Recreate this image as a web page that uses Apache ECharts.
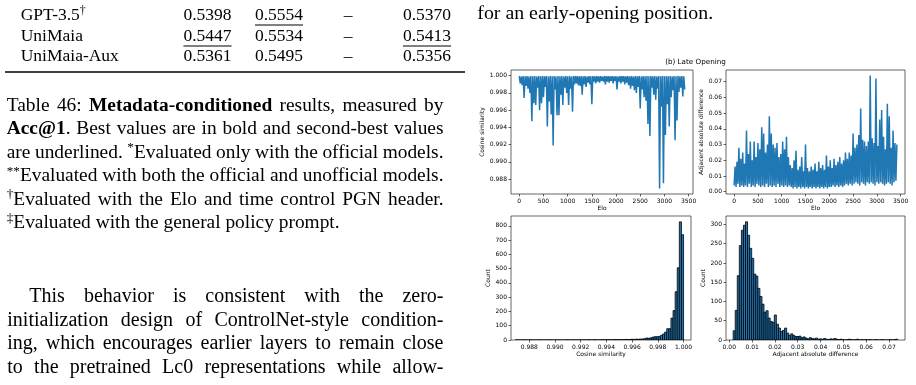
<!DOCTYPE html>
<html>
<head>
<meta charset="utf-8">
<script src="https://cdn.jsdelivr.net/npm/echarts@6/dist/echarts.min.js"></script>
<style>
html, body { margin: 0; padding: 0; background: #fff; }
#main { width: 916px; height: 385px; }
</style>
</head>
<body>
<div id="main"></div>
<script>
// ---- data ----
var eloStep = 20; // one sample every 20 Elo, 0..3420

// cosine similarity vs Elo (top left)
var cosSim = [
  0.99995, 0.9991, 0.99990, 0.9989, 0.99995, 0.9974, 0.99992, 0.9988, 0.99996, 0.9985,
  0.99990, 0.9980, 0.99995, 0.9947, 0.99993, 0.9968, 0.99996, 0.9966, 0.99990, 0.9986,
  0.99995, 0.9960, 0.99992, 0.9968, 0.99996, 0.9975, 0.99993, 0.9987, 0.99995, 0.9941,
  0.99990, 0.9970, 0.99996, 0.9955, 0.99992, 0.9919, 0.99995, 0.9984, 0.99990, 0.9954,
  0.99996, 0.9954, 0.99993, 0.9978, 0.99995, 0.9966, 0.99990, 0.9986, 0.99996, 0.9980,
  0.99993, 0.9966, 0.99995, 0.9985, 0.99990, 0.9958, 0.99996, 0.9990, 0.99994, 0.9991,
  0.99995, 0.9989, 0.99992, 0.9988, 0.99996, 0.9978, 0.99993, 0.9990, 0.99995, 0.9987,
  0.99990, 0.9992, 0.99996, 0.9990, 0.99994, 0.9967, 0.99995, 0.9993, 0.99992, 0.9991,
  0.99996, 0.9993, 0.99993, 0.9992, 0.99995, 0.9994, 0.99990, 0.9993, 0.99996, 0.9990,
  0.99994, 0.9993, 0.99995, 0.9992, 0.99992, 0.9994, 0.99996, 0.9991, 0.99993, 0.9994,
  0.99995, 0.9984, 0.99990, 0.9993, 0.99996, 0.9991, 0.99994, 0.9993, 0.99995, 0.9990,
  0.99992, 0.9992, 0.99996, 0.9989, 0.99993, 0.9985, 0.99995, 0.9988, 0.99990, 0.9983,
  0.99996, 0.9980, 0.99993, 0.9987, 0.99995, 0.9962, 0.99990, 0.9984, 0.99996, 0.9975,
  0.99994, 0.9971, 0.99995, 0.9944, 0.99992, 0.9930, 0.99996, 0.9986, 0.99993, 0.9978,
  0.99995, 0.9972, 0.99990, 0.9985, 0.99996, 0.9869, 0.99994, 0.9964, 0.99995, 0.9875,
  0.99992, 0.9931, 0.99996, 0.9967, 0.99993, 0.9941, 0.99995, 0.9975, 0.99990, 0.9983,
  0.99996, 0.9925, 0.99994, 0.9948, 0.99995, 0.9981, 0.99992, 0.9986, 0.99996, 0.9976,
  0.99993, 0.9984
];

// adjacent absolute difference vs Elo (top right)
var adjDiff = [
  0.004, 0.016, 0.003, 0.019, 0.005, 0.028, 0.003, 0.021, 0.004, 0.025,
  0.003, 0.018, 0.004, 0.039, 0.003, 0.024, 0.005, 0.032, 0.003, 0.020,
  0.004, 0.032, 0.003, 0.022, 0.005, 0.031, 0.004, 0.027, 0.003, 0.041,
  0.004, 0.037, 0.003, 0.025, 0.005, 0.030, 0.003, 0.048, 0.004, 0.037,
  0.003, 0.030, 0.004, 0.028, 0.003, 0.031, 0.005, 0.022, 0.003, 0.024,
  0.004, 0.032, 0.003, 0.027, 0.004, 0.035, 0.003, 0.022, 0.004, 0.017,
  0.003, 0.015, 0.002, 0.020, 0.003, 0.026, 0.002, 0.014, 0.003, 0.016,
  0.002, 0.022, 0.003, 0.013, 0.002, 0.030, 0.003, 0.015, 0.002, 0.013,
  0.003, 0.016, 0.002, 0.014, 0.003, 0.018, 0.002, 0.013, 0.003, 0.019,
  0.002, 0.015, 0.003, 0.017, 0.002, 0.014, 0.003, 0.023, 0.002, 0.016,
  0.003, 0.020, 0.003, 0.015, 0.004, 0.021, 0.003, 0.017, 0.004, 0.019,
  0.003, 0.022, 0.004, 0.018, 0.003, 0.020, 0.004, 0.025, 0.005, 0.021,
  0.004, 0.025, 0.005, 0.023, 0.004, 0.037, 0.005, 0.028, 0.006, 0.030,
  0.005, 0.036, 0.004, 0.053, 0.006, 0.033, 0.005, 0.032, 0.004, 0.029,
  0.006, 0.032, 0.005, 0.074, 0.006, 0.034, 0.005, 0.031, 0.004, 0.072,
  0.006, 0.029, 0.005, 0.046, 0.006, 0.052, 0.005, 0.035, 0.004, 0.027,
  0.005, 0.056, 0.006, 0.048, 0.005, 0.028, 0.004, 0.039, 0.006, 0.031,
  0.007, 0.030
];

// histogram of cosine similarity (bottom left), 80 bins
var cosBinStart = 0.98693, cosBinEnd = 1.0;
var cosCounts = [
  1, 0, 0, 1, 0, 0, 0, 1, 0, 0,
  0, 1, 0, 0, 0, 0, 1, 0, 0, 0,
  1, 0, 0, 0, 1, 0, 0, 1, 0, 0,
  1, 0, 1, 0, 1, 1, 0, 2, 1, 0,
  1, 2, 1, 1, 2, 1, 2, 3, 2, 2,
  3, 2, 4, 3, 3, 5, 4, 6, 5, 7,
  7, 9, 14, 12, 15, 20, 23, 23, 25, 32,
  42, 55, 79, 79, 153, 206, 338, 506, 828, 738
];

// histogram of adjacent absolute difference (bottom right), 80 bins
var diffBinStart = 0.0017, diffBinEnd = 0.0738;
var diffCounts = [
  24, 77, 167, 245, 285, 298, 307, 272, 238, 212,
  171, 166, 134, 113, 93, 72, 76, 57, 48, 46,
  65, 41, 31, 22, 25, 31, 18, 12, 16, 12,
  9, 9, 10, 6, 8, 5, 3, 6, 4, 3,
  5, 2, 3, 2, 4, 2, 1, 3, 2, 4,
  2, 1, 2, 1, 0, 1, 2, 1, 0, 1,
  2, 0, 1, 0, 1, 0, 1, 0, 0, 1,
  0, 0, 1, 0, 0, 0, 1, 0, 1, 2
];

// tick values
var eloTicks = [0, 500, 1000, 1500, 2000, 2500, 3000, 3500];
var cosTicks = [0.988, 0.990, 0.992, 0.994, 0.996, 0.998, 1.000];
var diffTicks = [0, 0.01, 0.02, 0.03, 0.04, 0.05, 0.06, 0.07];
var cosCountTicks = [0, 100, 200, 300, 400, 500, 600, 700, 800];
var diffCountTicks = [0, 50, 100, 150, 200, 250, 300];

// page text around the figure
var tableNames = ['GPT-3.5{s|\u2020}', 'UniMaia', 'UniMaia-Aux'];
var tableValues = [
  ['0.5398', '0.5554', '\u2013', '0.5370'],
  ['0.5447', '0.5534', '\u2013', '0.5413'],
  ['0.5361', '0.5495', '\u2013', '0.5356']
];
var tableUnderlined = [[0, 1], [1, 0], [1, 3]];
var captionLines = [
  'Table 46: {b|Metadata-conditioned} results, measured by',
  '{b|Acc@1}. Best values are in bold and second-best values',
  'are underlined. {s|*}Evaluated only with the official models.',
  '{s|**}Evaluated with both the official and unofficial models.',
  '{s|\u2020}Evaluated with the Elo and time control PGN header.',
  '{s|\u2021}Evaluated with the general policy prompt.'
];
var paragraphLines = [
  'This behavior is consistent with the zero-',
  'initialization design of ControlNet-style condition-',
  'ing, which encourages earlier layers to remain close',
  'to the pretrained Lc0 representations while allow-'
];
var rightColumnLine = 'for an early-opening position.';

// ---- text layout helpers ----
var measureCtx = document.createElement('canvas').getContext('2d');
var SERIF = '"Liberation Serif", "Times New Roman", serif';

function fontOf(kind, fs) {
    if (kind === 'b') return 'bold ' + fs + 'px ' + SERIF;
    if (kind === 's') return (fs * 0.68).toFixed(1) + 'px ' + SERIF;
    return fs + 'px ' + SERIF;
}
function parseWord(w) {
    var segs = [], re = /\{(\w)\|([^}]*)\}|([^{]+)/g, m;
    while ((m = re.exec(w))) {
        segs.push(m[1] ? { k: m[1], t: m[2] } : { k: 'n', t: m[3] });
    }
    return segs;
}
function segWidth(g, fs) {
    measureCtx.font = fontOf(g.k, fs);
    g.w = measureCtx.measureText(g.t).width;
    return g.w;
}
function textEl(t, x, base, kind, fs, align) {
    var y = kind === 's' ? base - fs * 0.36 - fs * 0.68 * 0.34 : base - fs * 0.34;
    return {
        type: 'text', x: x, y: y, silent: true,
        style: { text: t, font: fontOf(kind, fs), fill: '#000', align: align || 'left', verticalAlign: 'middle' }
    };
}
function textLine(str, x0, x1, base, fs, justify, out) {
    var words = str.split(' ').map(parseWord);
    var widths = words.map(function (segs) {
        return segs.reduce(function (s, g) { return s + segWidth(g, fs); }, 0);
    });
    measureCtx.font = fontOf('n', fs);
    var gap = measureCtx.measureText(' ').width;
    if (justify && words.length > 1) {
        var total = widths.reduce(function (a, b) { return a + b; }, 0);
        gap = (x1 - x0 - total) / (words.length - 1);
    }
    var x = x0;
    words.forEach(function (segs) {
        segs.forEach(function (g) {
            out.push(textEl(g.t, x, base, g.k, fs));
            x += g.w;
        });
        x += gap;
    });
}

function buildPageText() {
    var els = [];
    // table rows
    var tfs = 17.5, rowBase = [21, 42, 62.5], colX = [207.5, 279, 348, 427];
    tableNames.forEach(function (name, r) {
        textLine(name, 20.7, 0, rowBase[r], tfs, false, els);
        tableValues[r].forEach(function (v, c) {
            els.push(textEl(v, colX[c], rowBase[r], 'n', tfs, 'center'));
        });
    });
    tableUnderlined.forEach(function (rc) {
        measureCtx.font = fontOf('n', tfs);
        var w = measureCtx.measureText(tableValues[rc[0]][rc[1]]).width;
        var y = rowBase[rc[0]] + 4;
        els.push({ type: 'line', silent: true, shape: { x1: colX[rc[1]] - w / 2, y1: y, x2: colX[rc[1]] + w / 2, y2: y },
            style: { stroke: '#000', lineWidth: 1 } });
    });
    els.push({ type: 'line', silent: true, shape: { x1: 5, y1: 72, x2: 465, y2: 72 }, style: { stroke: '#000', lineWidth: 1.6 } });

    // caption
    var capBase = [112.5, 136, 159.5, 183, 206.5, 230];
    captionLines.forEach(function (ln, i) {
        textLine(ln, 6.7, 443.5, capBase[i], 19.4, i < captionLines.length - 1, els);
    });
    // body paragraph
    var parBase = [303.3, 327.3, 351, 374.3];
    paragraphLines.forEach(function (ln, i) {
        textLine(ln, i === 0 ? 29.3 : 7.3, 443.5, parBase[i], 20, true, els);
    });
    // right column
    textLine(rightColumnLine, 477.3, 0, 20.7, 19.85, false, els);
    // figure title
    els.push({ type: 'text', x: 695.5, y: 62.3, silent: true,
        style: { text: '(b) Late Opening', font: '7.2px "DejaVu Sans"', fill: '#000', align: 'center', verticalAlign: 'middle' } });
    return els;
}

// ---- chart ----
var SANS = 'DejaVu Sans';
function valueAxis(gridIndex, min, max, ticks, digits, name, nameGap) {
    return {
        type: 'value', gridIndex: gridIndex, min: min, max: max,
        name: name, nameLocation: 'middle', nameGap: nameGap,
        nameTextStyle: { fontFamily: SANS, fontSize: 6, color: '#000' },
        axisLine: { show: false, onZero: false },
        splitLine: { show: false },
        axisTick: { show: true, length: 2.5, lineStyle: { color: '#000', width: 0.6 }, customValues: ticks },
        axisLabel: {
            customValues: ticks, margin: 4, fontFamily: SANS, fontSize: 6, color: '#000',
            formatter: function (v) { return (+v).toFixed(digits); }
        }
    };
}
function gridBox(left, top, width, height) {
    return { left: left, top: top, width: width, height: height, show: true, borderColor: '#000', borderWidth: 0.6,
        backgroundColor: 'transparent', containLabel: false, outerBoundsMode: 'none' };
}
function toBins(start, end, counts) {
    var w = (end - start) / counts.length;
    return counts.map(function (c, i) { return [start + i * w, start + (i + 1) * w, c]; });
}
function histItem(params, api) {
    var p0 = api.coord([api.value(0), api.value(2)]);
    var p1 = api.coord([api.value(1), 0]);
    return {
        type: 'rect',
        shape: { x: p0[0], y: p0[1], width: p1[0] - p0[0], height: p1[1] - p0[1] },
        style: { fill: '#1f77b4', stroke: '#000', lineWidth: 0.8 }
    };
}

var myChart = echarts.init(document.getElementById('main'), null, { renderer: 'canvas' });
var option = {
    animation: false,
    backgroundColor: '#fff',
    grid: [
        gridBox(511, 70, 182, 124),
        gridBox(726, 70, 179, 124),
        gridBox(511, 216, 180, 124),
        gridBox(726, 216, 179, 124)
    ],
    xAxis: [
        valueAxis(0, -171, 3591, eloTicks, 0, 'Elo', 11),
        valueAxis(1, -171, 3591, eloTicks, 0, 'Elo', 11),
        valueAxis(2, 0.98658, 1.00058, cosTicks, 3, 'Cosine similarity', 11),
        valueAxis(3, -0.00144, 0.0770, diffTicks, 2, 'Adjacent absolute difference', 11)
    ],
    yAxis: [
        valueAxis(0, 0.98626, 1.00066, cosTicks, 3, 'Cosine similarity', 24),
        valueAxis(1, -0.00146, 0.07745, diffTicks, 2, 'Adjacent absolute difference', 20),
        valueAxis(2, 0, 869, cosCountTicks, 0, 'Count', 19),
        valueAxis(3, 0, 322, diffCountTicks, 0, 'Count', 19)
    ],
    series: [
        {
            type: 'line', xAxisIndex: 0, yAxisIndex: 0, symbol: 'none', silent: true,
            data: cosSim.map(function (v, i) { return [i * eloStep, v]; }),
            lineStyle: { color: '#1f77b4', width: 1.5, join: 'bevel' }
        },
        {
            type: 'line', xAxisIndex: 1, yAxisIndex: 1, symbol: 'none', silent: true,
            data: adjDiff.map(function (v, i) { return [i * eloStep, v]; }),
            lineStyle: { color: '#1f77b4', width: 1.5, join: 'bevel' }
        },
        {
            type: 'custom', xAxisIndex: 2, yAxisIndex: 2, silent: true, clip: true,
            renderItem: histItem, encode: { x: [0, 1], y: 2 },
            data: toBins(cosBinStart, cosBinEnd, cosCounts)
        },
        {
            type: 'custom', xAxisIndex: 3, yAxisIndex: 3, silent: true, clip: true,
            renderItem: histItem, encode: { x: [0, 1], y: 2 },
            data: toBins(diffBinStart, diffBinEnd, diffCounts)
        }
    ],
    graphic: { elements: buildPageText() }
};
myChart.setOption(option);
</script>
</body>
</html>
